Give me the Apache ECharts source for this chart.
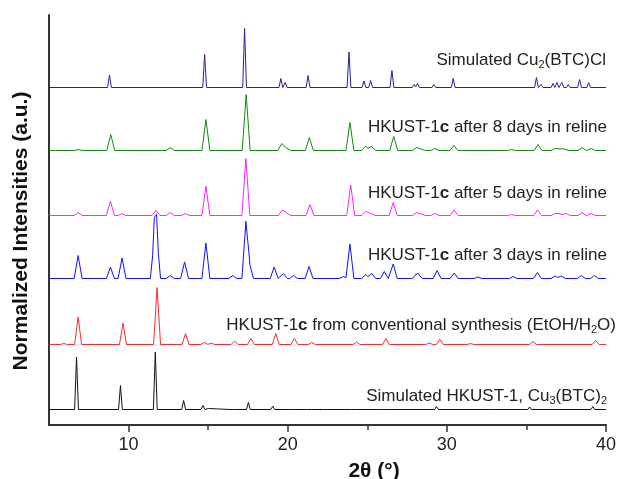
<!DOCTYPE html>
<html>
<head>
    <meta charset="UTF-8">
    <title>XRD patterns</title>
    <script type="text/javascript" src="https://cdn.jsdelivr.net/npm/echarts@6/dist/echarts.min.js"></script>
    <style>
        html, body { margin: 0; padding: 0; background: #fff; }
        #chart { width: 619px; height: 479px; }
    </style>
</head>
<body>
<div id="chart"></div>
<script type="text/javascript">
    // peak lists [2theta, height], heights in px above each baseline
    var simCu2Peaks = [[8.80, 12.5], [12.54, 2], [14.78, 33], [17.29, 59], [19.57, 9], [19.84, 5], [21.28, 12], [22.97, 1],
        [23.85, 35.5], [24.79, 6.5], [25.21, 7], [26.55, 17], [26.99, 2], [27.95, 3], [28.16, 4], [29.18, 3], [30.40, 9],
        [34.03, 2], [35.63, 10], [35.92, 3], [36.67, 4], [36.92, 5], [37.23, 5], [37.63, 3], [38.34, 8], [38.91, 5]];
    var day8Peaks = [[6.83, 1], [8.88, 16], [12.62, 3], [14.86, 31], [17.39, 56], [19.63, 7], [19.95, 4], [21.36, 13],
        [23.91, 28], [24.9, 4.5], [25.28, 4], [26.66, 14], [28.1, 3], [28.4, 2], [29.25, 2], [30.44, 5], [34.06, 1],
        [35.73, 6], [36.8, 2], [37.1, 2], [37.4, 2], [38.5, 3], [39.08, 2]];
    var day5Peaks = [[6.83, 3], [8.86, 14.5], [9.59, 2], [11.72, 5], [12.62, 3], [13.56, 2], [14.86, 29.5], [17.37, 57],
        [19.67, 5.5], [19.95, 3], [21.4, 11], [23.96, 30.5], [24.9, 4], [25.25, 4.5], [26.63, 13], [28.1, 3], [28.4, 2],
        [29.25, 2], [30.46, 5.5], [34.06, 1], [35.7, 5.5], [36.8, 2], [37.1, 2.5], [37.5, 2], [38.5, 3], [39.08, 2]];
    var day3Peaks = [[6.83, 23], [8.86, 11.5], [9.59, 20.5], [11.62, 41], [11.76, 46], [12.62, 3], [13.52, 16.5],
        [14.86, 35.5], [16.55, 3], [17.37, 56], [17.6, 15], [19.15, 11.5], [19.73, 5], [20.36, 3], [21.34, 12], [23.5, 2],
        [23.91, 34.5], [24.9, 4], [25.28, 5], [26.07, 7], [26.63, 14.5], [28.05, 3], [28.22, 4], [29.39, 8], [30.46, 5.5],
        [31.96, 1.5], [34.16, 2], [35.69, 6], [36.8, 2.5], [37.2, 2.5], [38.45, 3], [39.28, 3]];
    var convPeaks = [[5.93, 1], [6.83, 27.5], [9.65, 21.5], [11.79, 57], [13.58, 11], [14.77, 2], [15.2, 1.5], [16.66, 3.5],
        [17.69, 6], [19.25, 11], [20.42, 6], [21.51, 2], [24.33, 2.5], [26.17, 6], [28.89, 1.5], [29.56, 5], [31.49, 1],
        [35.41, 3], [39.35, 4]];
    var simHkustPeaks = [[6.73, 52.5], [9.49, 24], [11.68, 57.5], [13.46, 9], [14.67, 4], [15.03, 1], [16.49, 1.5],
        [17.53, 7], [19.06, 3.3], [20.26, 2], [21.36, 1], [22.39, 1], [24.12, 1.5], [26.0, 2], [29.35, 3],
        [32.9, 1], [35.2, 2.5], [39.18, 3]];

    // vertical offset of each trace, bottom to top
    var traceOffsets = [15.5, 80.5, 146.5, 209.5, 274.5, 337.5];
    var peakWidths = [0.12, 0.22, 0.25, 0.25, 0.25, 0.12];
    var tracePeaks = [simHkustPeaks, convPeaks, day3Peaks, day5Peaks, day8Peaks, simCu2Peaks];
    var traceColors = ['#111111', '#ff2a2a', '#1010ff', '#ff22ff', '#108a10', '#22229a'];

    var majorTicks = [10, 20, 30, 40];
    var minorTicks = [15, 25, 35];

    function buildTrace(peaks, w, offset) {
        var xs = [5, 40];
        for (var i = 0; i < peaks.length; i++) {
            xs.push(peaks[i][0] - w, peaks[i][0], peaks[i][0] + w);
        }
        xs.sort(function (a, b) { return a - b; });
        var out = [];
        for (var j = 0; j < xs.length; j++) {
            var x = xs[j], y = 0;
            for (var k = 0; k < peaks.length; k++) {
                var d = Math.abs(x - peaks[k][0]);
                if (d < w - 1e-9) y += peaks[k][1] * (1 - d / w);
            }
            out.push([x, offset + y]);
        }
        return out;
    }

    var series = [];
    for (var s = 0; s < tracePeaks.length; s++) {
        series.push({
            type: 'line',
            showSymbol: false,
            symbol: 'none',
            lineStyle: {width: 1, color: traceColors[s]},
            data: buildTrace(tracePeaks[s], peakWidths[s], traceOffsets[s])
        });
    }

    var fam = '"Liberation Sans", Arial, sans-serif';
    var rich = {
        n: {fontSize: 17, fontFamily: fam, color: '#222'},
        b: {fontSize: 17, fontFamily: fam, color: '#222', fontWeight: 'bold'},
        s: {fontSize: 11, fontFamily: fam, color: '#222', padding: [10, 0, 0, 0]}
    };

    function label(text, x, y) {
        return {
            type: 'text', x: x, y: y, silent: true,
            style: {text: text, rich: rich, align: 'right', verticalAlign: 'middle', font: '17px ' + fam, fill: '#222'}
        };
    }

    var chart = echarts.init(document.getElementById('chart'));
    chart.setOption({
        animation: false,
        backgroundColor: '#fff',
        grid: {left: 49, right: 12, top: 15, bottom: 54},
        xAxis: [{
            type: 'value', min: 5, max: 40,
            axisLine: {lineStyle: {color: '#333', width: 2}},
            axisTick: {customValues: majorTicks, length: 7, lineStyle: {color: '#333', width: 1.5}},
            axisLabel: {customValues: majorTicks, margin: 11, fontSize: 18, fontFamily: fam, color: '#222'},
            splitLine: {show: false}
        }, {
            type: 'value', min: 5, max: 40, position: 'bottom',
            axisLine: {show: false},
            axisTick: {customValues: minorTicks, length: 5, lineStyle: {color: '#333', width: 1.5}},
            axisLabel: {show: false},
            splitLine: {show: false}
        }],
        yAxis: {
            type: 'value', min: 0, max: 410,
            axisLine: {show: true, lineStyle: {color: '#333', width: 2}},
            axisTick: {show: false},
            axisLabel: {show: false},
            splitLine: {show: false}
        },
        series: series,
        graphic: [
            label('{n|Simulated Cu}{s|2}{n|(BTC)Cl}', 606, 60),
            label('{n|HKUST-1}{b|c}{n| after 8 days in reline}', 607, 127),
            label('{n|HKUST-1}{b|c}{n| after 5 days in reline}', 607, 193),
            label('{n|HKUST-1}{b|c}{n| after 3 days in reline}', 607, 255),
            label('{n|HKUST-1}{b|c}{n| from conventional synthesis (EtOH/H}{s|2}{n|O)}', 616, 325),
            label('{n|Simulated HKUST-1, Cu}{s|3}{n|(BTC)}{s|2}', 607, 396),
            {
                type: 'text', x: 374, y: 471, silent: true,
                style: {text: '2θ (°)', font: 'bold 21px ' + fam, fill: '#111', align: 'center', verticalAlign: 'middle'}
            },
            {
                type: 'text', x: 21, y: 231, rotation: Math.PI / 2, silent: true,
                style: {text: 'Normalized Intensities (a.u.)', font: 'bold 21px ' + fam, fill: '#111', align: 'center', verticalAlign: 'middle'}
            }
        ]
    });
</script>
</body>
</html>
